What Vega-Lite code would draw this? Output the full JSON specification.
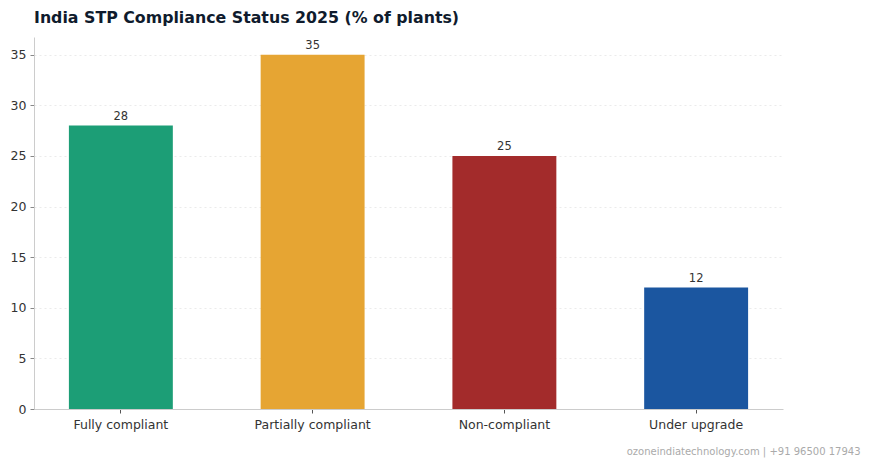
{
  "$schema": "https://vega.github.io/schema/vega-lite/v6.json",
  "autosize": "none",
  "width": 749,
  "height": 372,
  "padding": {"left": 34, "top": 37, "right": 87, "bottom": 56},
  "background": "white",
  "title": {
    "text": "India STP Compliance Status 2025 (% of plants)",
    "anchor": "start",
    "frame": "group",
    "font": "DejaVu Sans",
    "fontSize": 15.8,
    "fontWeight": "bold",
    "color": "#0f1b2d",
    "offset": 10
  },
  "data": {
    "values": [
      {"status": "Fully compliant", "pct": 28},
      {"status": "Partially compliant", "pct": 35},
      {"status": "Non-compliant", "pct": 25},
      {"status": "Under upgrade", "pct": 12}
    ]
  },
  "config": {
    "view": {"stroke": null},
    "axis": {"labelFont": "DejaVu Sans", "titleFont": "DejaVu Sans"}
  },
  "encoding": {
    "x": {
      "field": "status",
      "type": "nominal",
      "sort": null,
      "scale": {"paddingInner": 0.458, "paddingOuter": 0.182},
      "axis": {
        "title": "ozoneindiatechnology.com | +91 96500 17943",
        "titleColor": "#aaaaaa",
        "titleFontSize": 10,
        "titleFontWeight": "normal",
        "titleAnchor": "end",
        "titleAlign": "right",
        "titleX": 826,
        "titleY": 45,
        "titleBaseline": "alphabetic",
        "labelAngle": 0,
        "labelFontSize": 12.5,
        "labelColor": "#333333",
        "labelPadding": 5,
        "domainColor": "#cccccc",
        "tickColor": "#555555",
        "tickSize": 4,
        "grid": false
      }
    },
    "y": {
      "field": "pct",
      "type": "quantitative",
      "scale": {"domain": [0, 36.75], "nice": false},
      "axis": {
        "title": null,
        "values": [0, 5, 10, 15, 20, 25, 30, 35],
        "labelFontSize": 12.5,
        "labelColor": "#333333",
        "labelPadding": 4,
        "domainColor": "#cccccc",
        "tickColor": "#888888",
        "tickSize": 4,
        "grid": true,
        "gridColor": "#e6e6e6",
        "gridDash": [2, 3],
        "gridWidth": 0.8
      }
    }
  },
  "layer": [
    {
      "mark": {"type": "bar", "strokeWidth": 1},
      "encoding": {
        "color": {
          "field": "status",
          "type": "nominal",
          "sort": null,
          "scale": {
            "domain": ["Fully compliant", "Partially compliant", "Non-compliant", "Under upgrade"],
            "range": ["#1c9e76", "#e6a533", "#a32b2b", "#1b56a0"]
          },
          "legend": null
        }
      }
    },
    {
      "mark": {"type": "text", "baseline": "bottom", "dy": -4, "font": "DejaVu Sans", "fontSize": 11.5, "color": "#333333"},
      "encoding": {"text": {"field": "pct", "type": "quantitative"}}
    }
  ]
}
